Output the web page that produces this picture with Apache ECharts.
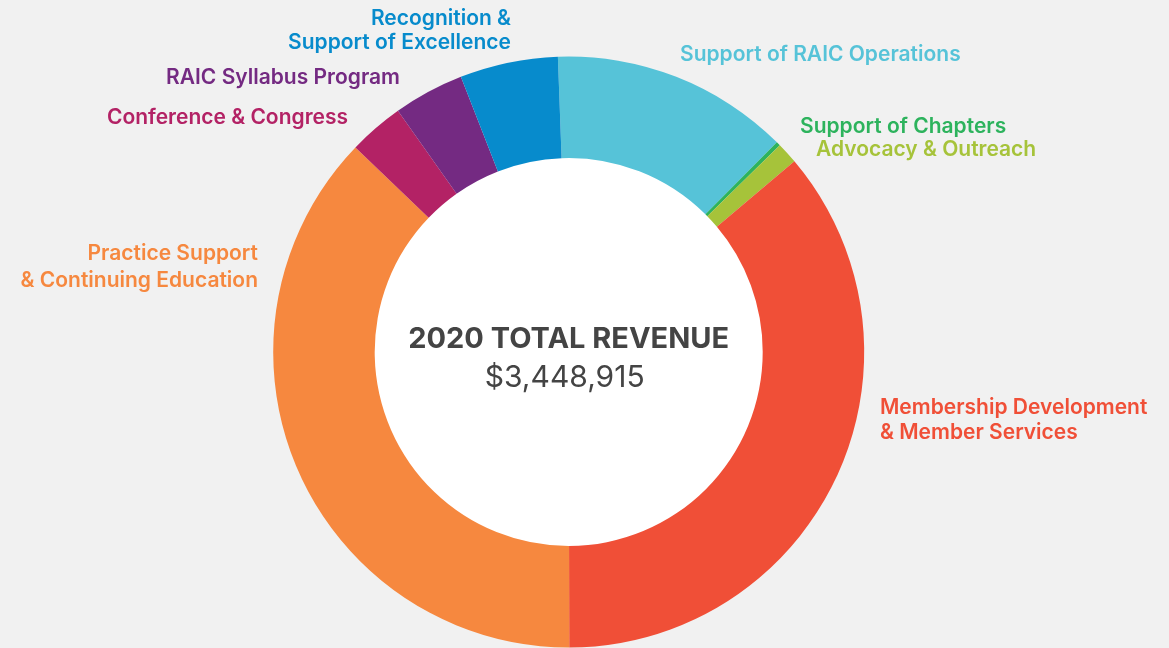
<!DOCTYPE html>
<html>
<head>
<meta charset="utf-8">
<script src="https://cdn.jsdelivr.net/npm/echarts@6/dist/echarts.min.js"></script>
<style>
html,body{margin:0;padding:0;background:#f1f1f1;}
#chart{width:1169px;height:648px;}
</style>
</head>
<body>
<div id="chart"></div>
<script>
// ---- Data ----
const categories = [
  'Support of RAIC Operations',
  'Support of Chapters',
  'Advocacy & Outreach',
  'Membership Development\n& Member Services',
  'Practice Support\n& Continuing Education',
  'Conference & Congress',
  'RAIC Syllabus Program',
  'Recognition &\nSupport of Excellence'
];
const revenue = [449300, 7660, 40240, 1246415, 1282800, 104400, 133200, 184900];
const totalLabel = '2020 TOTAL REVENUE';
const totalValue = '$3,448,915';

// ---- Styles / layout ----
const colors = ['#56c3d8', '#2db35d', '#a6c33a', '#f04f37', '#f6883f', '#b32265', '#742a82', '#078bcc'];
const labelPos = [
  {x: 680, y: 55, align: 'left', lh: 25},
  {x: 800, y: 127, align: 'left', lh: 25},
  {x: 816, y: 150, align: 'left', lh: 25},
  {x: 880, y: 420, align: 'left', lh: 25},
  {x: 258, y: 267, align: 'right', lh: 27},
  {x: 348, y: 118, align: 'right', lh: 25},
  {x: 400, y: 78, align: 'right', lh: 25},
  {x: 511, y: 31, align: 'right', lh: 24}
];
const CX = 568.7, CY = 352, R0 = 194, R1 = 295.5;
const FONT = 'Inter';

const chart = echarts.init(document.getElementById('chart'), null, {renderer: 'canvas'});
chart.setOption({
  backgroundColor: '#f1f1f1',
  animation: false,
  graphic: [
    {type: 'circle', z: 0, shape: {cx: CX, cy: CY, r: R0 + 1}, style: {fill: '#ffffff'}, silent: true},
    {type: 'text', z: 10, x: CX, y: 339, style: {text: totalLabel, fill: '#444444', font: '700 29px ' + FONT, textAlign: 'center', textVerticalAlign: 'middle'}},
    {type: 'text', z: 10, x: CX - 4, y: 378, style: {text: totalValue, fill: '#444444', font: '400 30px ' + FONT, textAlign: 'center', textVerticalAlign: 'middle'}}
  ],
  series: [{
    type: 'pie',
    center: [CX, CY],
    radius: [R0, R1],
    startAngle: 92.1,
    clockwise: true,
    avoidLabelOverlap: false,
    minAngle: 0,
    itemStyle: {borderWidth: 0},
    emphasis: {disabled: true},
    label: {
      show: true,
      position: 'outside',
      fontFamily: FONT,
      fontWeight: 600,
      fontSize: 21,
      lineHeight: 25
    },
    labelLine: {show: false},
    labelLayout: function (p) {
      const l = labelPos[p.dataIndex];
      return {x: l.x, y: l.y, align: l.align, verticalAlign: 'middle'};
    },
    data: categories.map((name, i) => ({
      name: name,
      value: revenue[i],
      itemStyle: {color: colors[i]},
      label: {color: colors[i], formatter: '{b}', lineHeight: labelPos[i].lh}
    }))
  }]
});
</script>
</body>
</html>
